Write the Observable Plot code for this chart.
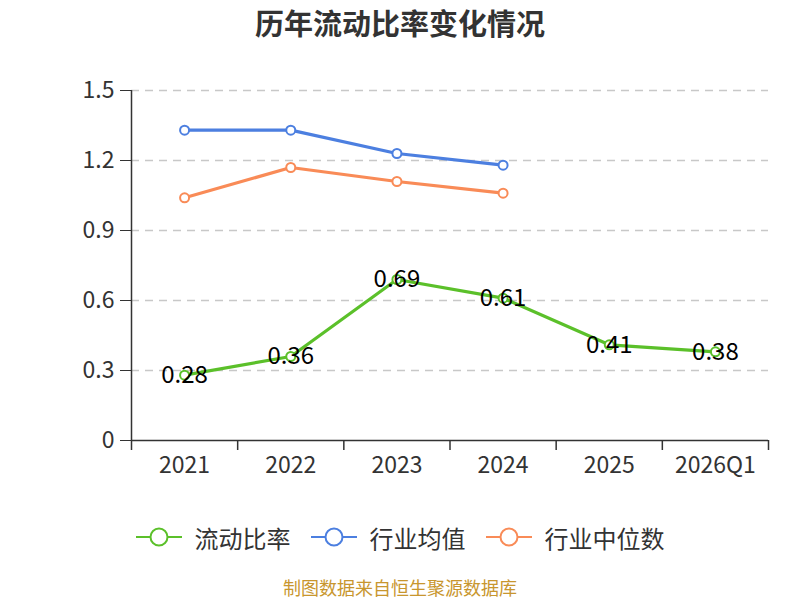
<!DOCTYPE html>
<html>
<head>
<meta charset="utf-8">
<script src="https://cdn.jsdelivr.net/npm/d3@7"></script>
<script src="https://cdn.jsdelivr.net/npm/@observablehq/plot@0.6"></script>
<style>
  html, body { margin: 0; padding: 0; background: #fff; width: 800px; height: 600px; overflow: hidden; position: relative; }
  body { font-family: "Noto Sans CJK SC", "Noto Sans", sans-serif; }
  #title { height: 44px; line-height: 44px; text-align: center; font-size: 29px; font-weight: bold; color: #333; }
  #chart { height: 436px; }
  #chart svg { display: block; }
  #legend { margin-top: 37px; height: 40px; display: flex; justify-content: center; align-items: center; gap: 20px; }
  .item { display: flex; align-items: center; font-size: 24px; color: #333; }
  .item svg { margin-right: 13px; display: block; }
  #footer { position: absolute; left: 0; width: 800px; top: 576px; height: 22px; line-height: 22px; text-align: center; font-size: 18px; color: #c8962e; }
</style>
</head>
<body>
<div id="title">历年流动比率变化情况</div>
<div id="chart"></div>
<div id="legend"></div>
<div id="footer">制图数据来自恒生聚源数据库</div>
<script>
const categories = ["2021", "2022", "2023", "2024", "2025", "2026Q1"];
const currentRatio = [0.28, 0.36, 0.69, 0.61, 0.41, 0.38];
const industryMean = [1.33, 1.33, 1.23, 1.18];
const industryMedian = [1.04, 1.17, 1.11, 1.06];
const yTicks = [0, 0.3, 0.6, 0.9, 1.2, 1.5];
const seriesNames = ["流动比率", "行业均值", "行业中位数"];
const colors = ["#5bc02a", "#4c7fe0", "#f98b57"];

const toRows = (vals, s) => vals.map((v, i) => ({ x: i + 0.5, y: v, s }));
const rows = [
  toRows(currentRatio, seriesNames[0]),
  toRows(industryMean, seriesNames[1]),
  toRows(industryMedian, seriesNames[2])
];

const marks = [
  Plot.gridY(yTicks.filter(d => d > 0), { stroke: "#c8c8c8", strokeOpacity: 1, strokeWidth: 1.5, strokeDasharray: "8,6" }),
  Plot.axisY({ ticks: yTicks, tickSize: 11, tickPadding: 6, fontSize: 23, label: null, stroke: "#333",
    tickFormat: d => d === 0 ? "0" : d.toFixed(1) }),
  Plot.ruleX([0], { y1: 0, y2: 1.5, stroke: "#333", strokeWidth: 1.5 }),
  Plot.ruleY([0], { stroke: "#333", strokeWidth: 1.5 }),
  Plot.axisX({ ticks: d3.range(categories.length + 1), tickSize: 10, tickFormat: () => "", label: null, stroke: "#333", strokeWidth: 1.5 }),
  Plot.axisX({ ticks: categories.map((c, i) => i + 0.5), tickSize: 0, tickPadding: 16, fontSize: 23, label: null,
    tickFormat: d => categories[Math.round(d - 0.5)] })
];
[2, 1, 0].forEach(k => {
  marks.push(Plot.line(rows[k], { x: "x", y: "y", stroke: colors[k], strokeWidth: 3.2 }));
  marks.push(Plot.dot(rows[k], { x: "x", y: "y", r: 4.5, fill: "#fff", stroke: colors[k], strokeWidth: 2 }));
});
marks.push(Plot.text(rows[0], { x: "x", y: "y", text: d => d.y.toFixed(2), fontSize: 24, fill: "#000" }));

const chart = Plot.plot({
  width: 800, height: 436,
  marginTop: 46, marginBottom: 40, marginLeft: 131, marginRight: 32,
  style: { fontFamily: '"Noto Sans CJK SC", "Noto Sans", sans-serif', color: "#333", background: "#fff" },
  x: { type: "linear", domain: [0, categories.length] },
  y: { domain: [0, 1.5] },
  marks
});
document.getElementById("chart").appendChild(chart);

const legend = document.getElementById("legend");
seriesNames.forEach((name, k) => {
  const item = document.createElement("div");
  item.className = "item";
  item.innerHTML = `<svg width="46" height="22"><line x1="0" x2="46" y1="11" y2="11" stroke="${colors[k]}" stroke-width="2"/><circle cx="23" cy="11" r="8.5" fill="#fff" stroke="${colors[k]}" stroke-width="2"/></svg><span>${name}</span>`;
  legend.appendChild(item);
});
</script>
</body>
</html>
